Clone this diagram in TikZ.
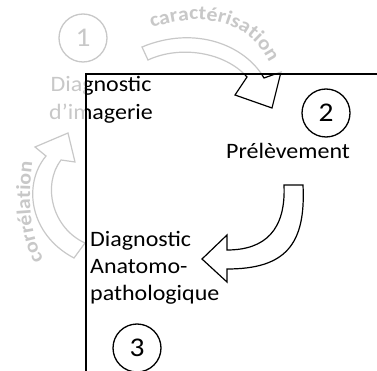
\documentclass[tikz,border=0pt]{standalone}
\usepackage{fontspec}
\setmainfont{Carlito}[FakeStretch=1.09]
\newfontfamily\curvefont{Carlito Bold}[FakeStretch=1.09]
\usetikzlibrary{decorations.text}
\definecolor{faint}{RGB}{200,200,200}
\tikzset{
  numcirc/.style={circle, draw=#1, line width=1.3pt, minimum size=48pt, inner sep=0pt, text=#1, font=\fontsize{27}{30}\selectfont},
  lbl/.style={inner sep=0pt, text=#1, font=\fontsize{22}{27}\selectfont},
  arrowshape/.style={draw=#1, fill=white, line width=1.2pt, line join=miter},
}
\newcommand\myscene[1]{%
  \node[numcirc=#1] (c1) at (83,38) {1};
  \node[numcirc=#1] (c2) at (326,113) {2};
  \node[numcirc=#1] (c3) at (137,348) {3};
  \node[lbl=#1, anchor=base] (img1) at (101,92) {Diagnostic};
  \node[lbl=#1, anchor=base] (img2) at (101,120) {d’imagerie};
  \node[lbl=#1, anchor=base] (prel) at (288,159) {Prélèvement};
  \node[lbl=#1, anchor=base west] (ana1) at (90,246.5) {Diagnostic};
  \node[lbl=#1, anchor=base west] (ana2) at (90,273) {Anatomo-};
  \node[lbl=#1, anchor=base west] (ana3) at (90,300) {pathologique};
  % top curved arrow
  \draw[arrowshape=#1] (142,47) .. controls (195,25) and (245,45) .. (264,78)
     -- (281,72) -- (272,108) -- (235,95) -- (247,77)
     .. controls (225,52) and (180,45) .. (148,60) -- cycle;
  % right curved arrow
  \draw[arrowshape=#1] (303,185) .. controls (306,245) and (285,269) .. (227,269)
     -- (227,282) -- (202,259) -- (227,235) -- (227,250)
     .. controls (265,250) and (286,230) .. (284,185) -- cycle;
  % left curved arrow
  \draw[arrowshape=#1] (85,243) .. controls (52,228) and (42,185) .. (61,160)
     -- (75,162) -- (68,133) -- (35,147) -- (46,156)
     .. controls (22,185) and (30,235) .. (74,258) -- cycle;
  % labels along the arrows
  \path[decorate, decoration={text along path, text align=center, text color=#1,
     text={|\curvefont\fontsize{20}{20}\selectfont|caractérisation}}]
     (146,30) .. controls (195,11) and (250,16) .. (272,68);
  \path[decorate, decoration={text along path, text align=center, text color=#1,
     text={|\curvefont\fontsize{20}{20}\selectfont|corrélation}}]
     (51,268) .. controls (30,249) and (26,200) .. (34,151);
}
\begin{document}
\begin{tikzpicture}[x=1pt,y=-1pt]
  \useasboundingbox (0,0) rectangle (377,371);
  \fill[white] (0,0) rectangle (377,371);
  \myscene{faint}
  \begin{scope}
    \clip (86,74) rectangle (377,371);
    \fill[white] (86,74) rectangle (377,371);
    \myscene{black}
  \end{scope}
  \draw[line width=2pt] (377,74) -- (86,74) -- (86,371);
\end{tikzpicture}
\end{document}
